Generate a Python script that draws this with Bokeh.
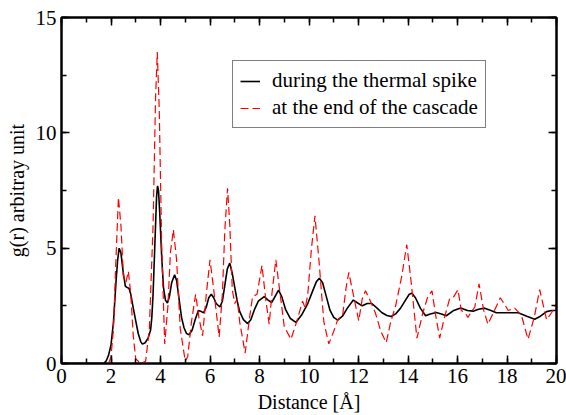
from bokeh.plotting import figure
from bokeh.models import Range1d, LinearAxis, SingleIntervalTicker, Legend, LegendItem
from bokeh.embed import file_html
from bokeh.resources import INLINE

# Data
spike_x = [0, 1.7, 1.8, 1.9, 2.0, 2.1, 2.2, 2.27, 2.33, 2.4, 2.5, 2.58, 2.65, 2.73, 2.8,
           2.9, 3.0, 3.1, 3.2, 3.27, 3.38, 3.5, 3.6, 3.65, 3.7, 3.75, 3.8, 3.84, 3.88, 3.92,
           3.97, 4.05, 4.12, 4.2, 4.28, 4.36, 4.45, 4.57, 4.65, 4.75, 4.85, 4.95, 5.05, 5.16,
           5.28, 5.4, 5.53, 5.65, 5.74, 5.85, 5.95, 6.05, 6.15, 6.25, 6.4, 6.5, 6.6, 6.7, 6.8,
           6.9, 7.0, 7.1, 7.2, 7.35, 7.52, 7.65, 7.8, 7.95, 8.19, 8.35, 8.49, 8.6, 8.77, 8.9,
           9.05, 9.25, 9.47, 9.7, 9.95, 10.15, 10.3, 10.42, 10.55, 10.7, 10.85, 11.0, 11.16,
           11.35, 11.55, 11.79, 12.0, 12.15, 12.35, 12.54, 12.75, 12.95, 13.15, 13.32, 13.5,
           13.7, 13.9, 14.05, 14.16, 14.3, 14.5, 14.71, 14.9, 15.14, 15.35, 15.55, 15.85,
           16.13, 16.4, 16.63, 16.85, 17.1, 17.35, 17.57, 18.0, 18.45, 18.8, 19.12, 19.35,
           19.6, 19.8, 20.0]
spike_y = [0, 0, 0.1, 0.35, 0.8, 1.8, 3.5, 4.5, 5.0, 4.8, 3.9, 3.35, 3.3, 3.25, 3.0,
           2.4, 1.85, 1.3, 0.95, 0.84, 0.9, 1.1, 1.45, 2.0, 3.0, 4.5, 6.0, 7.2, 7.7, 7.5,
           6.5, 4.6, 3.3, 2.75, 2.62, 2.9, 3.5, 3.85, 3.6, 2.8, 2.0, 1.55, 1.3, 1.25,
           1.45, 1.9, 2.3, 2.25, 2.2, 2.45, 2.85, 3.0, 2.85, 2.6, 2.45, 2.7, 3.4, 4.1, 4.35,
           3.9, 3.3, 2.7, 2.25, 1.9, 1.73, 1.9, 2.35, 2.7, 2.9, 2.75, 2.64, 2.85, 3.18, 2.9,
           2.35, 1.95, 1.78, 2.1, 2.6, 3.15, 3.55, 3.7, 3.5, 2.9, 2.3, 2.0, 1.88,
           2.05, 2.4, 2.75, 2.6, 2.5, 2.6, 2.6, 2.4, 2.2, 2.08, 2.04, 2.15,
           2.4, 2.75, 3.0, 3.05, 2.85, 2.4, 2.07, 2.15, 2.21, 2.15, 2.07, 2.3,
           2.41, 2.3, 2.27, 2.35, 2.4, 2.3, 2.2, 2.2, 2.2, 2.05, 1.92, 2.05,
           2.25, 2.3, 2.3]

cascade_x = [0.0, 1.9, 2.0, 2.1, 2.2, 2.3, 2.4, 2.5, 2.6, 2.7, 2.8, 2.9, 3.0, 3.2, 3.4,
             3.55, 3.7, 3.8, 3.87, 3.95, 4.05, 4.17, 4.3, 4.4, 4.52, 4.65, 4.8, 5.0, 5.1,
             5.25, 5.42, 5.55, 5.7, 5.85, 6.0, 6.15, 6.37, 6.5, 6.6, 6.71, 6.8, 6.9, 7.0,
             7.1, 7.2, 7.42, 7.6, 7.72, 7.9, 8.1, 8.25, 8.39, 8.5, 8.66, 8.8, 9.0, 9.27,
             9.5, 9.74, 9.85, 9.95, 10.1, 10.24, 10.4, 10.6, 10.8, 11.0, 11.16, 11.36, 11.5,
             11.61, 11.75, 12.01, 12.15, 12.28, 12.4, 12.68, 12.9, 13.12, 13.3, 13.5, 13.75,
             13.95, 14.1, 14.36, 14.6, 14.8, 14.97, 15.1, 15.28, 15.45, 15.68, 15.85, 16.02,
             16.15, 16.3, 16.42, 16.6, 16.7, 16.87, 17.06, 17.23, 17.45, 17.73, 17.91, 18.05,
             18.31, 18.58, 18.85, 19.1, 19.32, 19.45, 19.6, 19.8, 20.0]
cascade_y = [0, 0, 0.3, 1.5, 4.5, 7.2, 6.0, 3.8, 3.5, 4.0, 3.0, 1.2, 0.2, 0.0, 0.1,
             1.5, 6.0, 11.5, 13.5, 11.0, 5.0, 0.85, 2.5, 4.8, 5.8, 4.5, 1.5, 0.1, 0.3,
             1.8, 3.0, 2.0, 1.2, 3.0, 4.5, 3.2, 1.15, 3.0, 5.8, 7.6, 6.0, 3.2, 2.6,
             2.8, 1.8, 0.45, 2.0, 2.9, 3.0, 4.25, 2.8, 1.7, 3.0, 4.5, 3.3, 1.6, 1.05,
             1.8, 2.7, 2.4, 3.0, 5.0, 6.4, 4.5, 1.8, 0.85, 1.4, 1.9, 2.1, 3.3,
             3.95, 3.2, 1.85, 2.8, 3.15, 2.9, 2.2, 1.4, 0.9, 1.8, 2.5, 3.8,
             5.15, 3.8, 1.1, 2.2, 2.9, 3.15, 2.2, 1.1, 1.9, 2.8, 2.9, 3.2,
             2.3, 2.2, 2.0, 2.3, 2.45, 3.45, 2.3, 1.7, 2.2, 2.85, 2.55, 2.3,
             2.4, 2.1, 1.05, 2.0, 3.2, 2.6, 1.9, 2.2, 2.6]

labels = ["during the thermal spike", "at the end of the cascade"]
x_title = "Distance [Å]"
y_title = "g(r) arbitray unit"

FONT = "'Liberation Serif', 'Times New Roman', serif"

p = figure(width=566, height=415, output_backend="svg", toolbar_location=None,
           x_range=Range1d(0, 20), y_range=Range1d(0, 15),
           x_axis_location=None, y_axis_location=None)
p.min_border_left = 61
p.min_border_right = 10
p.min_border_top = 17
p.min_border_bottom = 52
p.xgrid.visible = False
p.ygrid.visible = False
p.outline_line_color = "black"
p.outline_line_width = 2
p.background_fill_color = "white"
p.border_fill_color = "white"

r1 = p.line(spike_x, spike_y, line_color="black", line_width=1.6)
r2 = p.line(cascade_x, cascade_y, line_color="red", line_width=1.2, line_dash="8 4")


def make_axis(kind, side, show_labels, title=None, standoff=2):
    if kind == "x":
        t = SingleIntervalTicker(interval=2, num_minor_ticks=2)
    else:
        t = SingleIntervalTicker(interval=5, num_minor_ticks=2)
    ax = LinearAxis(ticker=t)
    ax.axis_line_color = "black"
    ax.axis_line_width = 2
    ax.major_tick_in = 8
    ax.major_tick_out = 0
    ax.minor_tick_in = 5
    ax.minor_tick_out = 0
    ax.major_tick_line_width = 1.5
    ax.minor_tick_line_width = 1.5
    ax.major_tick_line_color = "black"
    ax.minor_tick_line_color = "black"
    if show_labels:
        ax.major_label_text_font = FONT
        ax.major_label_text_font_size = "21px"
        ax.major_label_text_color = "black"
        ax.major_label_standoff = 5
    else:
        ax.major_label_text_font_size = "0px"
        ax.major_label_text_color = None
    if title:
        ax.axis_label = title
        ax.axis_label_text_font = FONT
        ax.axis_label_text_font_size = "20px"
        ax.axis_label_text_font_style = "normal"
        ax.axis_label_text_color = "black"
        ax.axis_label_standoff = standoff
    p.add_layout(ax, side)
    return ax


make_axis("x", "below", True, x_title, standoff=5)
make_axis("y", "left", True, y_title, standoff=5)
make_axis("x", "above", False)
make_axis("y", "right", False)

legend = Legend(items=[LegendItem(label=labels[0], renderers=[r1]),
                       LegendItem(label=labels[1], renderers=[r2])],
                location=(171, 235))
legend.label_text_font = FONT
legend.label_text_font_size = "21px"
legend.label_text_color = "black"
legend.border_line_color = "black"
legend.border_line_width = 1.5
legend.background_fill_alpha = 1
legend.glyph_width = 20
legend.glyph_height = 22
legend.label_standoff = 12
legend.label_height = 22
legend.padding = 7
legend.spacing = 2
legend.margin = 0
p.add_layout(legend, "center")

open("out.html", "w").write(file_html(p, INLINE))
